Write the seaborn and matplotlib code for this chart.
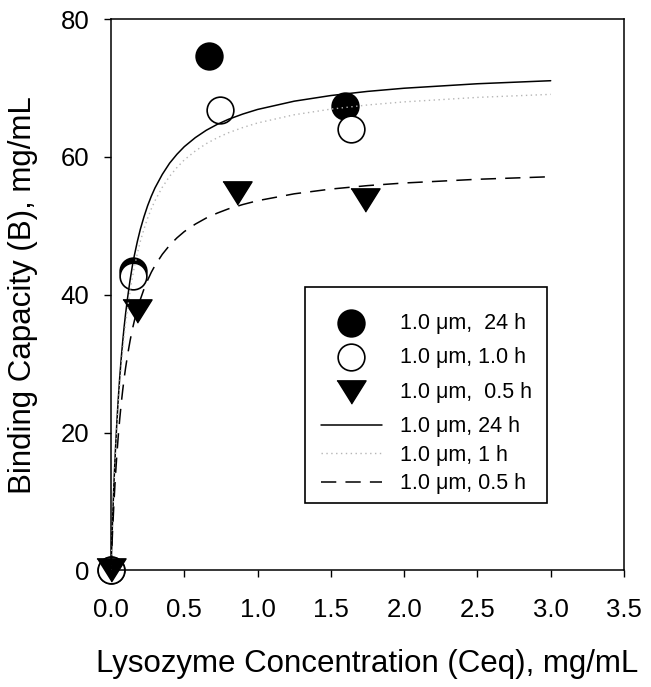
"""Lysozyme binding isotherms: measured points and fitted curves."""

import pandas as pd
import matplotlib
matplotlib.use("Agg")
import matplotlib.pyplot as plt
from matplotlib.patches import Rectangle
import seaborn as sns

# measured binding capacity, mg/mL
ceq_24h = [0.0, 0.152, 0.668, 1.596]
b_24h = [0.0, 43.4, 74.7, 67.4]
ceq_1h = [0.0, 0.152, 0.744, 1.637]
b_1h = [0.0, 42.7, 66.8, 64.0]
ceq_05h = [0.0, 0.18, 0.857, 1.733]
b_05h = [0.0, 37.6, 54.8, 53.7]

# fitted curves
curve_x = [0.0, 0.01, 0.02, 0.03, 0.04, 0.05, 0.06, 0.07, 0.08, 0.09, 0.10, 0.115,
           0.13, 0.145, 0.16, 0.18, 0.20, 0.225, 0.25, 0.275, 0.30, 0.35, 0.40,
           0.45, 0.50, 0.575, 0.65, 0.725, 0.80, 0.90, 1.00, 1.25, 1.50, 1.75,
           2.00, 2.50, 3.00]
fit_24h = [0.0, 6.89, 12.60, 17.40, 21.51, 25.03, 28.14, 30.85, 33.26, 35.41, 37.34,
           39.85, 42.11, 44.09, 45.77, 47.75, 49.49, 51.32, 52.93, 54.30, 55.50,
           57.47, 59.10, 60.39, 61.49, 62.80, 63.87, 64.73, 65.45, 66.23, 66.89,
           68.09, 68.91, 69.51, 69.97, 70.62, 71.06]
fit_1h = [0.0, 6.55, 11.99, 16.58, 20.54, 23.93, 26.93, 29.55, 31.89, 33.98, 35.86,
          38.30, 40.51, 42.45, 44.08, 46.03, 47.73, 49.54, 51.12, 52.47, 53.65,
          55.60, 57.20, 58.47, 59.57, 60.86, 61.93, 62.78, 63.50, 64.27, 64.93,
          66.12, 66.94, 67.54, 67.99, 68.64, 69.08]
fit_05h = [0.0, 5.35, 9.81, 13.59, 16.82, 19.63, 22.08, 24.26, 26.18, 27.92, 29.46,
           31.49, 33.31, 34.92, 36.28, 37.91, 39.31, 40.83, 42.12, 43.27, 44.24,
           45.87, 47.19, 48.26, 49.17, 50.25, 51.14, 51.85, 52.46, 53.10, 53.65,
           54.65, 55.34, 55.84, 56.22, 56.76, 57.13]

x_ticks = [0.0, 0.5, 1.0, 1.5, 2.0, 2.5, 3.0, 3.5]
y_ticks = [0, 20, 40, 60, 80]

sns.set_style("ticks")
plt.rcParams["font.family"] = ["Liberation Sans", "DejaVu Sans"]
plt.rcParams["text.color"] = "black"
plt.rcParams["axes.labelcolor"] = "black"
plt.rcParams["xtick.color"] = "black"
plt.rcParams["ytick.color"] = "black"

W, H = 651, 687
fig = plt.figure(figsize=(W / 100, H / 100), dpi=100)
ax = fig.add_axes([0.1705, 0.1696, 0.788, 0.8026])

tri = [(-1.0, 0.8), (1.0, 0.8), (0.0, -0.8)]

sns.scatterplot(x=ceq_24h, y=b_24h, marker="o", s=370, color="black",
                edgecolor="black", linewidth=1.2, label="1.0 \u03bcm,  24 h", ax=ax)
sns.scatterplot(x=ceq_1h, y=b_1h, marker="o", s=370, color="white",
                edgecolor="black", linewidth=1.2, label="1.0 \u03bcm, 1.0 h", ax=ax)
sns.scatterplot(x=ceq_05h, y=b_05h, marker=tri, s=440, color="black",
                edgecolor="black", linewidth=1.0, label="1.0 \u03bcm,  0.5 h", ax=ax)

curves = pd.DataFrame({"x": curve_x, "24h": fit_24h, "1h": fit_1h, "05h": fit_05h})
sns.lineplot(data=curves, x="x", y="24h", color="black", linewidth=1.1,
             label="1.0 \u03bcm, 24 h", ax=ax)
sns.lineplot(data=curves, x="x", y="1h", color="#b5b5b5", linewidth=1.0,
             linestyle=(0, (1, 2.5)), label="1.0 \u03bcm, 1 h", ax=ax)
sns.lineplot(data=curves, x="x", y="05h", color="black", linewidth=1.1,
             linestyle=(0, (10, 6)), label="1.0 \u03bcm, 0.5 h", ax=ax)

for coll in ax.collections:
    coll.set_clip_on(False)
    coll.set_zorder(2)
for line in ax.lines:
    line.set_zorder(3)

ax.set_xlim(0, 3.5)
ax.set_ylim(0, 80)
ax.set_xticks(x_ticks)
ax.set_xticklabels([f"{t:.1f}" for t in x_ticks])
ax.set_yticks(y_ticks)
ax.tick_params(direction="out", length=5, width=1, labelsize=18.5,
               top=False, right=False)
ax.tick_params(axis="x", pad=15)
ax.tick_params(axis="y", pad=10.5)
for sp in ax.spines.values():
    sp.set_visible(True)
    sp.set_linewidth(1.1)
    sp.set_color("black")

ax.set_xlabel("Lysozyme Concentration (Ceq), mg/mL", fontsize=22.5, labelpad=19)
ax.set_ylabel("Binding Capacity (B), mg/mL", fontsize=22.5, labelpad=16.5)

# legend: markers block and lines block inside one drawn frame
handles, labels = ax.get_legend_handles_labels()
common = dict(loc="upper left", bbox_transform=fig.transFigure, borderaxespad=0,
              borderpad=0, fontsize=15.5, frameon=False, handlelength=2.84,
              handletextpad=0.85, scatterpoints=1)
leg1 = ax.legend(handles[:3], labels[:3], bbox_to_anchor=(320.7 / W, 1 - 312.5 / H),
                 labelspacing=0.63, **common)
ax.add_artist(leg1)
leg2 = ax.legend(handles[3:], labels[3:], bbox_to_anchor=(320.7 / W, 1 - 416.5 / H),
                 labelspacing=0.34, **common)
frame = Rectangle((305 / W, 1 - 503 / H), 242 / W, 216 / H,
                  transform=fig.transFigure, facecolor="white",
                  edgecolor="black", linewidth=1.2, zorder=4, clip_on=False)
ax.add_patch(frame)

fig.savefig("out.png", dpi=100)
